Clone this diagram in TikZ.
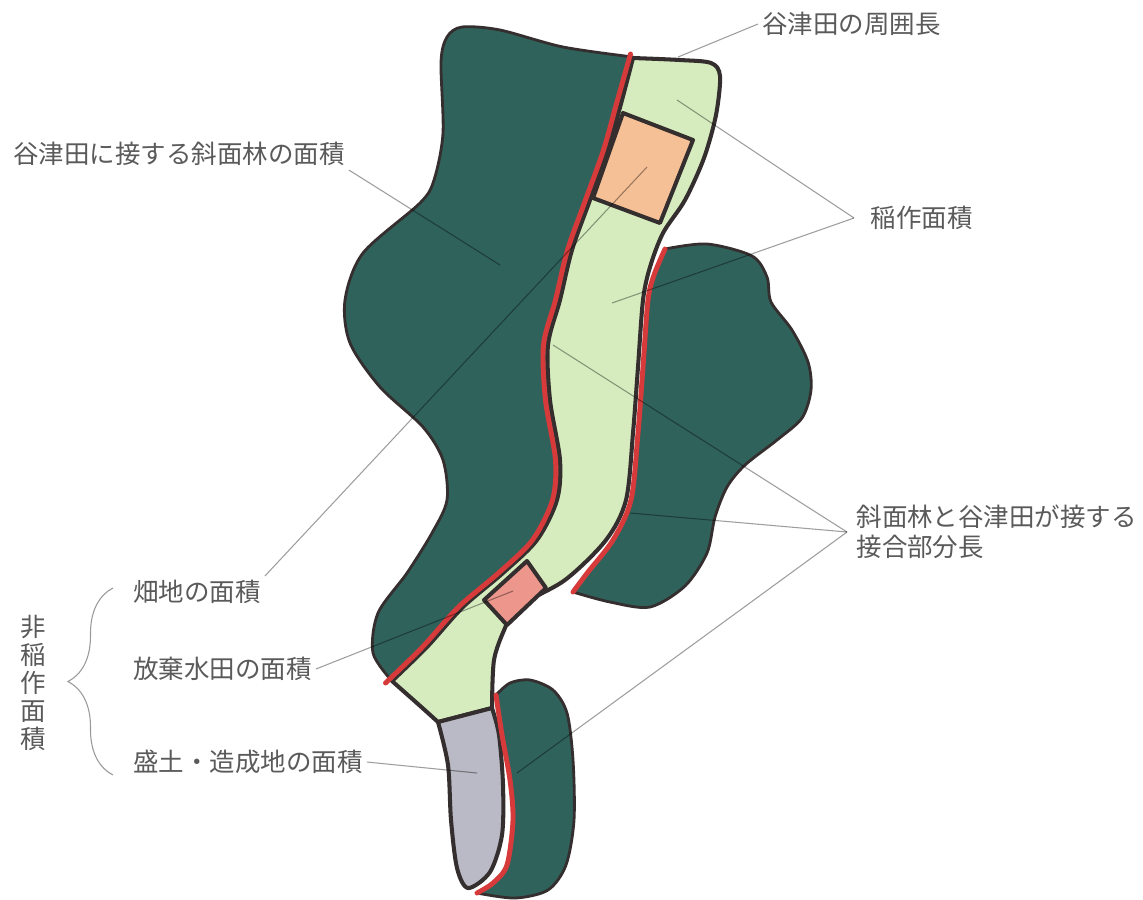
\documentclass[tikz,border=0pt]{standalone}
\usepackage{fontspec}
\setmainfont{Noto Sans CJK JP}
\usetikzlibrary{decorations.pathreplacing}
\definecolor{woodgreen}{RGB}{48,98,92}
\definecolor{paddygreen}{RGB}{214,236,190}
\definecolor{fieldorange}{RGB}{246,192,150}
\definecolor{fallowpink}{RGB}{236,150,140}
\definecolor{fillgray}{RGB}{186,186,198}
\definecolor{bankred}{RGB}{214,58,58}
\definecolor{edgeblack}{RGB}{52,46,46}
\definecolor{labelgray}{RGB}{90,90,90}
\tikzset{
  woods/.style={fill=woodgreen,draw=edgeblack,line width=0.8pt,line join=round},
  plotarea/.style={draw=edgeblack,line width=1.15pt,line join=round},
  bank/.style={draw=bankred,line width=1.4pt,line cap=round},
  leader/.style={draw=black!38,line width=0.3pt,blend mode=multiply},
  lbl/.style={text=labelgray,font=\fontsize{7.25pt}{8pt}\selectfont,inner sep=1pt,anchor=west},
}

\begin{document}
\begin{tikzpicture}[x=0.01cm,y=-0.01cm]
\fill[white] (0,0) rectangle (1143,899);
\useasboundingbox (0,0) rectangle (1143,899);
% slope forests
\path[woods] plot[smooth] coordinates {(392,681) (373,653) (378,613) (407,573) (432,533) (447,500) (443,460) (423,427) (380,387) (350,343) (345,300) (363,253) (420,203) (434,180) (443,133) (441,62) (447,37) (462,27) (500,30) (563,47) (633,57)}
  -- plot[smooth] coordinates {(633,57) (622,100) (608,150) (590,200) (572,250) (560,300) (548,345) (550,400) (560,460) (557,500) (537,540) (503,573) (463,607) (427,647) (392,681)} -- cycle;
\path[woods] plot[smooth] coordinates {(573,592) (588,572) (613,540) (631,500) (638,433) (643,367) (648,300) (654,275) (665,249)}
  -- plot[smooth] coordinates {(665,249) (707,244) (752,256) (767,277) (771,302) (792,330) (808,362) (811,390) (802,418) (777,440) (745,465) (727,487) (715,517) (707,553) (685,586) (650,607) (610,602) (573,592)} -- cycle;
\path[woods] plot[smooth] coordinates {(496,695) (510,683) (530,680) (553,690) (567,713) (573,760) (574,820) (566,865) (548,890) (515,898) (477,893)}
  -- plot[smooth] coordinates {(477,893) (493,883) (507,865) (513,820) (510,780) (502,735) (496,695)} -- cycle;
% valley paddy
\path[plotarea,fill=paddygreen] plot[smooth] coordinates {(633,58) (680,60) (711,63) (720,76) (716,115) (704,158) (685,200) (663,233) (650,267) (643,300) (638,367) (633,433) (626,500) (606,540) (565,580) (517,607) (505,628) (494,660) (492,708)}
  -- (438,722)
  -- plot[smooth] coordinates {(438,722) (418,704) (392,681)}
  -- plot[smooth] coordinates {(392,681) (427,647) (463,607) (503,573) (537,540) (557,500) (560,460) (550,400) (548,345) (560,300) (572,250) (590,200) (608,150) (622,100) (633,58)} -- cycle;
\path[plotarea,fill=fieldorange] (623,113) -- (693,140) -- (660,223) -- (593,198) -- cycle;
\path[plotarea,fill=fallowpink] (484,600) -- (527,561) -- (546,588) -- (507,625) -- cycle;
\path[plotarea,fill=fillgray] (438,722) -- plot[smooth] coordinates {(492,708) (499,735) (503,785) (502,835) (490,872) (468,888) (457,868) (451,820) (448,765) (438,722)} -- cycle;
% red banks
\draw[bank,xshift=-0.045cm] plot[smooth] coordinates {(635,54) (622,100) (608,150) (590,200) (572,250) (560,300) (548,345) (550,400) (560,460) (557,500) (537,540) (503,573) (463,607) (427,647) (390,683)};
\draw[bank] plot[smooth] coordinates {(665,249) (654,275) (648,300) (643,367) (638,433) (631,500) (613,540) (588,572) (573,592)};
\draw[bank] plot[smooth] coordinates {(496,695) (502,735) (510,780) (513,820) (507,865) (493,883) (477,893)};
% points
\coordinate (perimpt) at (678,57);
\coordinate (ricept1) at (677,100);
\coordinate (ricept2) at (612,303);
\coordinate (slopept) at (500,265);
\coordinate (fieldpt) at (647,167);
\coordinate (fallowpt) at (513,591);
\coordinate (fillpt) at (477,773);
\coordinate (jointpt1) at (553,345);
\coordinate (jointpt2) at (630,513);
\coordinate (jointpt3) at (517,773);
% labels
\node (perim) [lbl] at (758,24) {谷津田の周囲長};
\node (slope) [lbl] at (9,154) {谷津田に接する斜面林の面積};
\node (rice) [lbl,inner xsep=4.5pt] at (854,218) {稲作面積};
\node (joint) [lbl,inner xsep=2.5pt,align=left,font=\fontsize{7.25pt}{8.5pt}\selectfont] at (847,532) {斜面林と谷津田が接する\\接合部分長};
\node (field) [lbl] at (129,592) {畑地の面積};
\node (fallow) [lbl] at (129,669) {放棄水田の面積};
\node (fill) [lbl] at (129,762) {盛土・造成地の面積};
\node (nonrice) [lbl,anchor=center,align=center] at (33,683) {非\\稲\\作\\面\\積};
\draw[black!40,line width=0.3pt,decorate,decoration={brace,amplitude=0.45cm}] (113,775) -- (113,588);
% leader lines
\path[leader] (perim.west) edge (perimpt);
\path[leader] (rice.west) edge (ricept1) edge (ricept2);
\path[leader] (slope.south east) edge (slopept);
\path[leader] (field.north east) edge (fieldpt);
\path[leader] (fallow.east) edge (fallowpt);
\path[leader] (fill.east) edge (fillpt);
\path[leader] (joint.west) edge (jointpt1) edge (jointpt2) edge (jointpt3);
\end{tikzpicture}
\end{document}
